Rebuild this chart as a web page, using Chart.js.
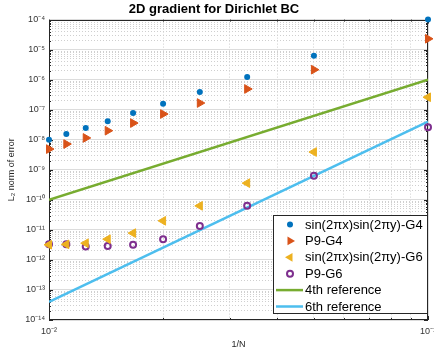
<!DOCTYPE html>
<html>
<head>
<meta charset="utf-8">
<script src="https://cdn.jsdelivr.net/npm/chart.js@4/dist/chart.umd.min.js"></script>
<style>
  html, body { margin: 0; padding: 0; background: #fff; }
</style>
</head>
<body>
<canvas id="myChart" width="434" height="354"></canvas>
<script>
// grid sizes N, plotted against 1/N
const N = [10, 20, 30, 40, 50, 60, 70, 80, 90, 100];

// L2 error
const sinG4 = [1e-4, 6.3e-6, 1.23e-6, 3.9e-7, 1.58e-7, 7.8e-8, 4.1e-8, 2.45e-8, 1.55e-8, 1.0e-8];
const p9G4 = [2.3e-5, 2.15e-6, 4.9e-7, 1.67e-7, 7.2e-8, 3.6e-8, 2.0e-8, 1.15e-8, 7.2e-9, 4.9e-9];
const sinG6 = [2.6e-7, 3.9e-9, 3.6e-10, 6.3e-11, 2.0e-11, 7.8e-12, 4.9e-12, 3.6e-12, 3.3e-12, 3.2e-12];
const p9G6 = [2.6e-8, 6.3e-10, 6.3e-11, 1.35e-11, 4.9e-12, 3.2e-12, 2.9e-12, 2.8e-12, 3.3e-12, 3.3e-12];

// reference slopes, end points
const refX = [0.01, 0.1];
const ref4 = [1e-10, 1e-6];
const ref6 = [4e-14, 4e-8];

const names = ["sin(2πx)sin(2πy)-G4", "P9-G4", "sin(2πx)sin(2πy)-G6", "P9-G6", "4th reference", "6th reference"];
const colors = ["#0072BD", "#D95319", "#EDB120", "#7E2F8E", "#77AC30", "#4DBEEE"];

// decades shown on the axes
const xDecades = [-2, -1];
const yDecades = [-14, -4];

const FONT = "'Liberation Sans', Arial, Helvetica, sans-serif";
Chart.defaults.font.family = FONT;
Chart.defaults.color = "#262626";

const sup = { "-": "⁻", "0": "⁰", "1": "¹", "2": "²", "3": "³", "4": "⁴", "5": "⁵", "6": "⁶", "7": "⁷", "8": "⁸", "9": "⁹" };
function powLabel(v) {
  const e = Math.round(Math.log10(v));
  return "10" + String(e).split("").map(c => sup[c]).join("");
}

function logTicks(lo, hi) {
  let t = [];
  for (let e = lo; e < hi; e++) {
    for (let m = 1; m < 10; m++) t.push({ value: m * Math.pow(10, e), major: m === 1 });
  }
  t.push({ value: Math.pow(10, hi), major: true });
  return t;
}

const xs = N.map(n => 1 / n);
const pts = ys => xs.map((x, i) => ({ x: x, y: ys[i] }));
const line = ys => refX.map((x, i) => ({ x: x, y: ys[i] }));

function marker(i, style, r, rot, fill, bw) {
  return {
    label: names[i],
    data: null,
    pointStyle: style,
    pointRadius: r,
    pointHoverRadius: r,
    pointRotation: rot,
    pointBackgroundColor: fill ? colors[i] : "rgba(0,0,0,0)",
    pointBorderColor: colors[i],
    pointBorderWidth: bw,
    backgroundColor: colors[i],
    borderColor: colors[i],
    showLine: false,
    clip: false,
  };
}

const datasets = [
  Object.assign(marker(0, "circle", 3, 0, true, 0), { data: pts(sinG4) }),
  Object.assign(marker(1, "triangle", 5, 90, true, 1), { data: pts(p9G4) }),
  Object.assign(marker(2, "triangle", 5, -90, true, 1), { data: pts(sinG6) }),
  Object.assign(marker(3, "circle", 3, 0, false, 2), { data: pts(p9G6) }),
  { label: names[4], data: line(ref4), showLine: true, pointRadius: 0, borderColor: colors[4], backgroundColor: colors[4], borderWidth: 2.5 },
  { label: names[5], data: line(ref6), showLine: true, pointRadius: 0, borderColor: colors[5], backgroundColor: colors[5], borderWidth: 2.5 },
];

const gridColor = c => (c.tick && c.tick.major ? "#dcdcdc" : "#cfcfcf");
const gridDash = c => (c.tick && c.tick.major ? [] : [1, 2]);

// axes box with inward ticks, like matlab
const axesBox = {
  id: "axesBox",
  beforeDatasetsDraw(chart) {
    const c = chart.ctx, a = chart.chartArea, sx = chart.scales.x, sy = chart.scales.y;
    c.save();
    c.strokeStyle = "#262626";
    c.lineWidth = 1;
    c.beginPath();
    sy.ticks.forEach(t => {
      const p = Math.round(sy.getPixelForValue(t.value)) + 0.5;
      const L = t.major ? 4 : 2;
      c.moveTo(a.left, p); c.lineTo(a.left + L, p);
      c.moveTo(a.right, p); c.lineTo(a.right - L, p);
    });
    sx.ticks.forEach(t => {
      const p = Math.round(sx.getPixelForValue(t.value)) + 0.5;
      const L = t.major ? 4 : 2;
      c.moveTo(p, a.bottom); c.lineTo(p, a.bottom - L);
      c.moveTo(p, a.top); c.lineTo(p, a.top + L);
    });
    c.stroke();
    c.strokeRect(Math.round(a.left) + 0.5, Math.round(a.top) + 0.5, Math.round(a.width) - 1, Math.round(a.height) - 1);
    c.restore();
  }
};

// legend box in the lower right corner of the axes
const legendBox = {
  id: "legendBox",
  afterDraw(chart) {
    const c = chart.ctx, a = chart.chartArea;
    const x0 = Math.round(a.right) - 155, y0 = Math.round(a.bottom) - 105, w = 154, h = 98;
    c.save();
    c.fillStyle = "#fff";
    c.fillRect(x0, y0, w, h);
    c.strokeStyle = "#262626";
    c.lineWidth = 1;
    c.strokeRect(x0 + 0.5, y0 + 0.5, w, h);
    c.font = "13px " + FONT;
    c.textBaseline = "middle";
    chart.data.datasets.forEach((ds, i) => {
      const y = y0 + 9.5 + i * 16.4;
      const mx = x0 + 17;
      c.strokeStyle = colors[i];
      c.fillStyle = colors[i];
      if (ds.showLine) {
        c.lineWidth = 2.5;
        c.beginPath();
        c.moveTo(x0 + 3, y);
        c.lineTo(x0 + 30, y);
        c.stroke();
      } else if (ds.pointStyle === "circle") {
        c.beginPath();
        if (ds.pointBorderWidth > 0) {
          c.lineWidth = ds.pointBorderWidth;
          c.arc(mx, y, ds.pointRadius, 0, Math.PI * 2);
          c.stroke();
        } else {
          c.arc(mx, y, ds.pointRadius, 0, Math.PI * 2);
          c.fill();
        }
      } else {
        const r = ds.pointRadius;
        let rad = ds.pointRotation * Math.PI / 180;
        c.beginPath();
        for (let k = 0; k < 3; k++) {
          const px = mx + Math.sin(rad) * r, py = y - Math.cos(rad) * r;
          if (k === 0) c.moveTo(px, py); else c.lineTo(px, py);
          rad += 2 * Math.PI / 3;
        }
        c.closePath();
        c.fill();
      }
      c.fillStyle = "#000";
      c.fillText(ds.label, x0 + 32, y + 0.5);
    });
    c.restore();
  }
};

const config = {
  type: "scatter",
  data: { datasets: datasets },
  options: {
    responsive: false,
    animation: false,
    layout: { padding: { left: 0, right: 6, top: 0, bottom: 0 } },
    plugins: {
      legend: { display: false },
      tooltip: { enabled: false },
      title: {
        display: true,
        text: "2D gradient for Dirichlet BC",
        color: "#000",
        font: { size: 13, weight: "bold", family: FONT },
        padding: { top: 2, bottom: 2 },
      },
    },
    scales: {
      x: {
        type: "logarithmic",
        min: Math.pow(10, xDecades[0]),
        max: Math.pow(10, xDecades[1]),
        afterBuildTicks: s => { s.ticks = logTicks(xDecades[0], xDecades[1]); },
        afterFit: s => { s.height = 34; s.paddingLeft = 0; s.paddingRight = 0; },
        grid: { color: gridColor, lineWidth: 1, drawTicks: false },
        border: { display: false, dash: gridDash },
        ticks: {
          autoSkip: false,
          maxRotation: 0,
          padding: 6,
          color: "#333",
          font: { size: 9 },
          callback: (v, i, t) => (t[i].major ? powLabel(v) : ""),
        },
        title: { display: true, text: "1/N", color: "#262626", font: { size: 9 }, padding: { top: 0, bottom: 4 } },
      },
      y: {
        type: "logarithmic",
        min: Math.pow(10, yDecades[0]),
        max: Math.pow(10, yDecades[1]),
        afterBuildTicks: s => { s.ticks = logTicks(yDecades[0], yDecades[1]); },
        afterFit: s => { s.width = 49; s.paddingTop = 0; s.paddingBottom = 0; },
        grid: { color: gridColor, lineWidth: 1, drawTicks: false },
        border: { display: false, dash: gridDash },
        ticks: {
          autoSkip: false,
          padding: 4,
          color: "#333",
          font: { size: 9 },
          callback: (v, i, t) => (t[i].major ? powLabel(v) : ""),
        },
        title: { display: true, text: "L₂ norm of error", color: "#262626", font: { size: 9 }, padding: { top: 6, bottom: 0 } },
      },
    },
  },
  plugins: [axesBox, legendBox],
};

const myChart = new Chart(document.getElementById("myChart").getContext("2d"), config);
</script>
</body>
</html>
